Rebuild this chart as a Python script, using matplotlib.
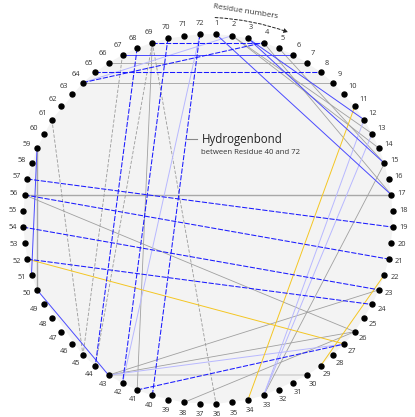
import numpy as np
import matplotlib
matplotlib.use("Agg")
import matplotlib.pyplot as plt
from matplotlib.patches import Polygon, FancyArrowPatch

plt.rcParams['font.family'] = ['Open Sans', 'DejaVu Sans']

# residues placed clockwise round the circle, 1 just right of the top
n_res = 72
residues = list(range(1, n_res + 1))

# hydrogen bonds, residue pairs grouped by drawing style
blue_dashed = [(72, 40), (70, 42), (68, 44), (57, 19), (56, 21), (54, 23),
               (52, 24), (41, 27), (69, 4), (64, 4), (65, 8)]
blue_solid = [(1, 17), (3, 15), (3, 12), (67, 6), (59, 51), (50, 43)]
grey_solid = [(69, 41), (43, 23), (43, 26), (38, 26), (56, 26), (33, 15),
              (2, 14), (2, 13), (4, 17), (5, 15), (66, 7), (64, 9)]
grey_thick = [(56, 17), (59, 50)]
grey_dashed = [(61, 45), (67, 45), (69, 44), (69, 36)]
lavender = [(72, 42), (64, 2), (43, 27), (33, 12), (33, 13)]
yellow = [(52, 27), (34, 11), (29, 22)]
faint = [(43, 30)]


def pos(k, r=1.0):
    a = np.deg2rad((k - 0.5) * 360.0 / n_res)
    return r * np.sin(a), r * np.cos(a)


fig = plt.figure(figsize=(4.15, 4.17), dpi=100)
ax = fig.add_axes([0, 0, 1, 1])
ax.set_xlim(-1.124, 1.119)
ax.set_ylim(-1.070, 1.184)
ax.axis('off')

# Fond gris : polygone des residus relies
groups = [blue_dashed, blue_solid, grey_solid, grey_thick, grey_dashed,
          lavender, yellow, faint]
linked = sorted({k for g in groups for p in g for k in p})
ax.add_patch(Polygon([pos(k) for k in linked], closed=True,
                     facecolor='#f3f3f3', edgecolor='none', zorder=0))


def draw(pairs, **kw):
    for a, b in pairs:
        xa, ya = pos(a)
        xb, yb = pos(b)
        ax.plot([xa, xb], [ya, yb], **kw)


draw(faint, color='#d4d4d4', lw=1.2, zorder=1)
draw(grey_thick, color='#a8a8a8', lw=1.0, zorder=2)
draw(grey_solid, color='#a0a0a0', lw=0.6, zorder=2)
draw(grey_dashed, color='#9a9a9a', lw=0.6, ls=(0, (4, 2)), zorder=2)
draw(lavender, color='#b8b8ff', lw=0.7, zorder=2)
draw(yellow, color='#f3c623', lw=0.7, zorder=2)
draw(blue_solid, color='#4a4aff', lw=0.7, zorder=3)
draw(blue_dashed, color='#1a1aff', lw=0.75, ls=(0, (5, 1.5)), zorder=3)

# Points et numeros
xy = np.array([pos(k) for k in residues])
ax.plot(xy[:, 0], xy[:, 1], 'o', color='black', ms=3.6, zorder=5)
for k in residues:
    lx, ly = pos(k, 1.058)
    ax.text(lx, ly, str(k), fontsize=5.3, color='#333333',
            ha='center', va='center', zorder=6)

# Annotation
ax.plot([-0.115, -0.06], [0.43, 0.43], color='#888888', lw=0.8)
ax.text(-0.035, 0.43, "Hydrogenbond", fontsize=8.3, color='#222222',
        ha='left', va='center')
ax.text(-0.035, 0.362, "between Residue 40 and 72", fontsize=5.6,
        color='#333333', ha='left', va='center')

ax.text(0.205, 1.12, "Residue numbers", fontsize=5.8, color='#333333',
        ha='center', va='center', rotation=-9)
arrow = FancyArrowPatch(pos(0.75, 1.09), pos(5.3, 1.10),
                        connectionstyle="arc3,rad=-0.08",
                        arrowstyle='-|>', mutation_scale=6,
                        color='#222222', lw=0.7, ls=(0, (3, 2)))
ax.add_patch(arrow)

fig.savefig('out.png', dpi=100)
